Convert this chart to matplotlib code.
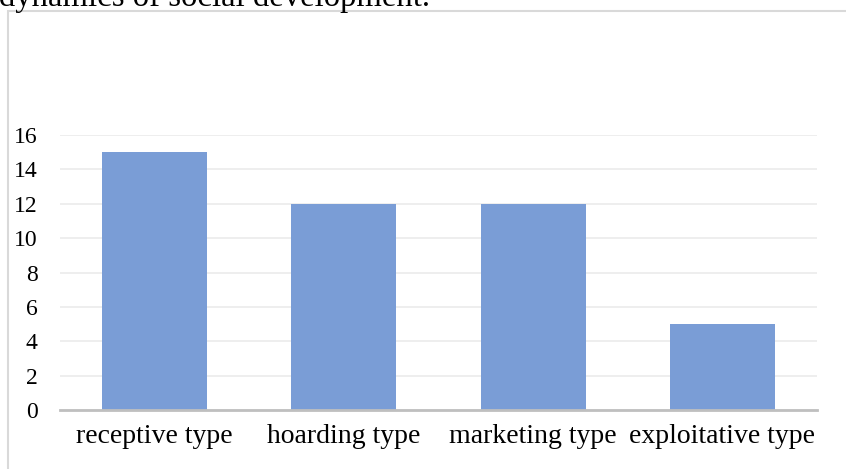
import matplotlib.pyplot as plt
from matplotlib.patches import Rectangle

categories = ["receptive type", "hoarding type", "marketing type", "exploitative type"]
values = [15, 12, 12, 5]
yticks = [0, 2, 4, 6, 8, 10, 12, 14, 16]

plt.rcParams['font.family'] = ['Liberation Serif', 'DejaVu Serif']

W, H = 846, 469
fig = plt.figure(figsize=(W / 100, H / 100), dpi=100)

# caption line cut off at the top of the picture
fig.text(-1 / W, 1 - 6 / H, "dynamics of social development.", fontsize=23.6,
         ha='left', va='baseline', color='black')

# chart frame (runs off the right and bottom edges)
fig.patches.append(Rectangle((8 / W, -0.05), 1.0, 1 - 11 / H + 0.05,
                             transform=fig.transFigure, fill=False,
                             edgecolor='#D9D9D9', linewidth=1.5))

ax = fig.add_axes([60 / W, 1 - 410 / H, 757 / W, 275 / H])
ax.bar(range(len(categories)), values, width=0.555, color='#7A9DD6', zorder=3)
ax.set_xlim(-0.5, len(categories) - 0.5)
ax.set_ylim(0, 16)
ax.set_yticks(yticks)
ax.set_xticks(range(len(categories)))
ax.set_xticklabels(categories)
ax.yaxis.grid(True, color='#EBEBEB', linewidth=1.2, zorder=0)
ax.tick_params(axis='both', length=0)
ax.tick_params(axis='y', pad=16, labelsize=17)
ax.tick_params(axis='x', pad=10, labelsize=20)
for s in ['top', 'right', 'left']:
    ax.spines[s].set_visible(False)
ax.spines['bottom'].set_color('#BFBFBF')
ax.spines['bottom'].set_linewidth(2)
ax.spines['bottom'].set_zorder(4)

fig.savefig("out.png", dpi=100)
